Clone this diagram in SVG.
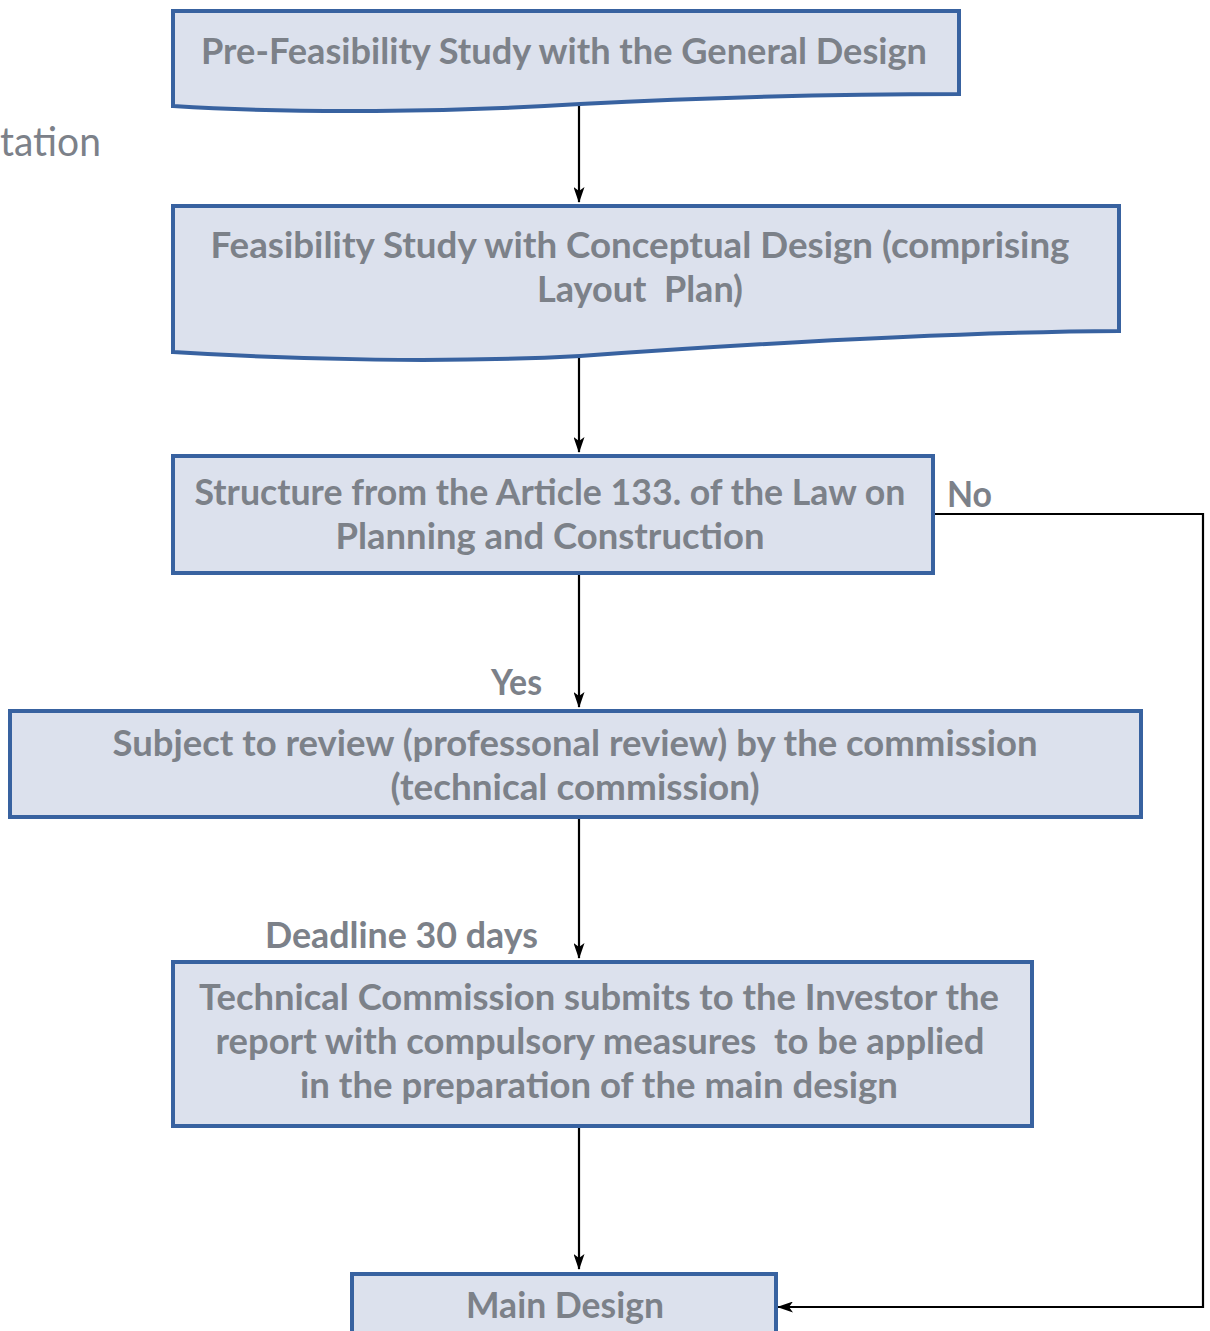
<svg xmlns="http://www.w3.org/2000/svg" width="1210" height="1331" viewBox="0 0 1210 1331">
<defs>
<marker id="ah" markerWidth="16" markerHeight="11" refX="15" refY="5.5" orient="auto" markerUnits="userSpaceOnUse" viewBox="0 0 16 11">
<path d="M0,0 L16,5.5 L0,11 L4,5.5 Z" fill="#000"/>
</marker>
<style>
.box{fill:#DCE1ED;stroke:#3862A0;stroke-width:4}
.t{font-family:Lato,"Open Sans","Liberation Sans",sans-serif;font-weight:700;font-size:36px;fill:#7C8189;text-anchor:middle}
.lab{font-family:Lato,"Open Sans","Liberation Sans",sans-serif;font-weight:700;font-size:36px;fill:#7C8189}
.c{fill:none;stroke:#000;stroke-width:2.2}
</style>
</defs>
<rect width="1210" height="1331" fill="#fff"/>
<text x="0" y="156" font-family="Lato,'Open Sans','Liberation Sans',sans-serif" font-size="40" fill="#7C8189" textLength="101" lengthAdjust="spacingAndGlyphs">tation</text>
<g id="connectors">
<line class="c" x1="579" y1="106" x2="579" y2="202" marker-end="url(#ah)"/>
<line class="c" x1="579" y1="358" x2="579" y2="452" marker-end="url(#ah)"/>
<line class="c" x1="579" y1="573" x2="579" y2="707" marker-end="url(#ah)"/>
<line class="c" x1="579" y1="817" x2="579" y2="958" marker-end="url(#ah)"/>
<line class="c" x1="579" y1="1126" x2="579" y2="1269" marker-end="url(#ah)"/>
<polyline class="c" points="933,514 1203,514 1203,1307 778,1307" marker-end="url(#ah)"/>
<text class="lab" x="947" y="507" textLength="45" lengthAdjust="spacingAndGlyphs">No</text>
<text class="lab" x="491" y="695" textLength="51" lengthAdjust="spacingAndGlyphs">Yes</text>
<text class="lab" x="265" y="948" textLength="273" lengthAdjust="spacingAndGlyphs">Deadline 30 days</text>
</g>
<g id="n1">
<path class="box" d="M173,11 H959 V94 C850,94 700,98 580,104 C450,112 300,114 173,106 Z"/>
<text class="t" x="564" y="64" textLength="726" lengthAdjust="spacingAndGlyphs">Pre-Feasibility Study with the General Design</text>
</g>
<g id="n2">
<path class="box" d="M173,206 H1119 V331 C950,332 750,344 580,356 C450,363 300,360 173,352 Z"/>
<text class="t" x="640" y="258" textLength="859" lengthAdjust="spacingAndGlyphs">Feasibility Study with Conceptual Design (comprising</text>
<text class="t" x="640" y="302" textLength="206" lengthAdjust="spacingAndGlyphs" xml:space="preserve">Layout  Plan)</text>
</g>
<g id="n3">
<rect class="box" x="173" y="456" width="760" height="117"/>
<text class="t" x="550" y="505" textLength="711" lengthAdjust="spacingAndGlyphs">Structure from the Article 133. of the Law on</text>
<text class="t" x="550" y="549" textLength="429" lengthAdjust="spacingAndGlyphs">Planning and Construction</text>
</g>
<g id="n4">
<rect class="box" x="10" y="711" width="1131" height="106"/>
<text class="t" x="575" y="756" textLength="925" lengthAdjust="spacingAndGlyphs">Subject to review (professonal review) by the commission</text>
<text class="t" x="575" y="800" textLength="369" lengthAdjust="spacingAndGlyphs">(technical commission)</text>
</g>
<g id="n5">
<rect class="box" x="173" y="962" width="859" height="164"/>
<text class="t" x="599" y="1010" textLength="800" lengthAdjust="spacingAndGlyphs">Technical Commission submits to the Investor the</text>
<text class="t" x="600" y="1054" textLength="769" lengthAdjust="spacingAndGlyphs" xml:space="preserve">report with compulsory measures  to be applied</text>
<text class="t" x="599" y="1098" textLength="598" lengthAdjust="spacingAndGlyphs">in the preparation of the main design</text>
</g>
<g id="n6">
<rect class="box" x="352" y="1274" width="424" height="80"/>
<text class="t" x="565" y="1318" textLength="198" lengthAdjust="spacingAndGlyphs">Main Design</text>
</g>
</svg>
